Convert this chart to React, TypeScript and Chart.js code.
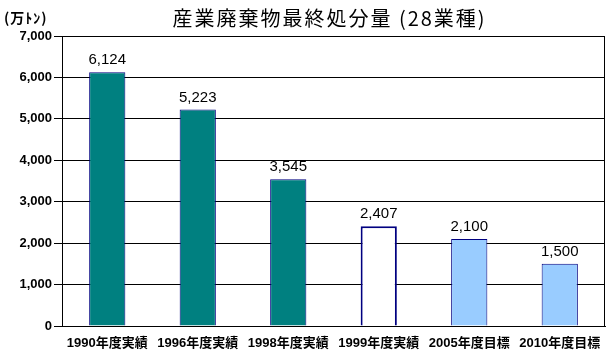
import React, { useEffect, useRef } from "react";
import { Chart, registerables } from "chart.js";

Chart.register(...registerables);

const categories = ["1990年度実績", "1996年度実績", "1998年度実績", "1999年度実績", "2005年度目標", "2010年度目標"];
const values = [6124, 5223, 3545, 2407, 2100, 1500];
const fillColors = ["#008080", "#008080", "#008080", "#FFFFFF", "#99CCFF", "#99CCFF"];
const borderWidths = [1, 1, 1, 2, 1, 1];
const yTicks = [0, 1000, 2000, 3000, 4000, 5000, 6000, 7000];
const titleText = "産業廃棄物最終処分量 (28業種)";
const unitText = "(万ﾄﾝ)";

const fmt = (v: number) => v.toLocaleString("en-US");

const overlayPlugin = {
  id: "overlay",
  afterDatasetsDraw(chart: any) {
    const ctx = chart.ctx as CanvasRenderingContext2D;
    const area = chart.chartArea;
    ctx.save();
    ctx.strokeStyle = "#000000";
    ctx.lineWidth = 1;
    ctx.beginPath();
    ctx.moveTo(Math.round(area.left) + 0.5, Math.round(area.top) + 0.5);
    ctx.lineTo(Math.round(area.right) - 0.5, Math.round(area.top) + 0.5);
    ctx.lineTo(Math.round(area.right) - 0.5, Math.round(area.bottom) + 0.5);
    ctx.stroke();
    const meta = chart.getDatasetMeta(0);
    ctx.fillStyle = "#000000";
    ctx.font = "15px 'Liberation Sans', Arial, sans-serif";
    ctx.textAlign = "center";
    ctx.textBaseline = "alphabetic";
    meta.data.forEach((bar: any, i: number) => {
      ctx.fillText(fmt(values[i]), bar.x, bar.y - 8);
    });
    ctx.font = "20px 'Noto Sans CJK JP', sans-serif";
    (ctx as any).letterSpacing = "2px";
    ctx.textBaseline = "middle";
    ctx.textAlign = "center";
    ctx.fillText(titleText, (area.left + area.right) / 2 - 4, 18);
    ctx.font = "bold 14px 'Noto Sans CJK JP', sans-serif";
    (ctx as any).letterSpacing = "1px";
    ctx.textAlign = "left";
    ctx.fillText(unitText, 4, 18);
    (ctx as any).letterSpacing = "0px";
    ctx.restore();
  },
};

export default function App() {
  const ref = useRef<HTMLCanvasElement>(null);
  useEffect(() => {
    if (!ref.current) return;
    const chart = new Chart(ref.current, {
      type: "bar",
      data: {
        labels: categories,
        datasets: [
          {
            data: values,
            backgroundColor: fillColors,
            borderColor: "#000080",
            borderWidth: borderWidths,
            barPercentage: 0.4,
            categoryPercentage: 1,
          },
        ],
      },
      options: {
        responsive: false,
        animation: false,
        devicePixelRatio: 1,
        layout: { padding: { top: 36, right: 10, left: 0, bottom: 0 } },
        plugins: { legend: { display: false }, title: { display: false }, tooltip: { enabled: false } },
        scales: {
          x: {
            grid: { display: false, drawTicks: false },
            border: { display: true, color: "#000000", width: 1 },
            ticks: {
              color: "#000000",
              padding: 10,
              maxRotation: 0,
              autoSkip: false,
              font: { family: "'Liberation Sans', 'Noto Sans CJK JP', sans-serif", size: 13, weight: "bold" },
            },
            afterFit: (s: any) => {
              s.height = 29;
            },
          },
          y: {
            min: 0,
            max: 7000,
            afterBuildTicks: (s: any) => {
              s.ticks = yTicks.map((v) => ({ value: v }));
            },
            grid: { color: "#000000", lineWidth: 1, tickLength: 8, drawTicks: true },
            border: { display: true, color: "#000000", width: 1 },
            ticks: {
              color: "#000000",
              padding: 2,
              callback: (v: any) => fmt(Number(v)),
              font: { family: "'Liberation Sans', Arial, sans-serif", size: 13, weight: "bold" },
            },
            afterFit: (s: any) => {
              s.width = 62;
            },
          },
        },
      },
      plugins: [overlayPlugin],
    });
    return () => chart.destroy();
  }, []);
  return (
    <div style={{ position: "fixed", left: 0, top: 0, width: 615, height: 355, background: "#fff" }}>
      <canvas ref={ref} width={615} height={355} />
    </div>
  );
}
